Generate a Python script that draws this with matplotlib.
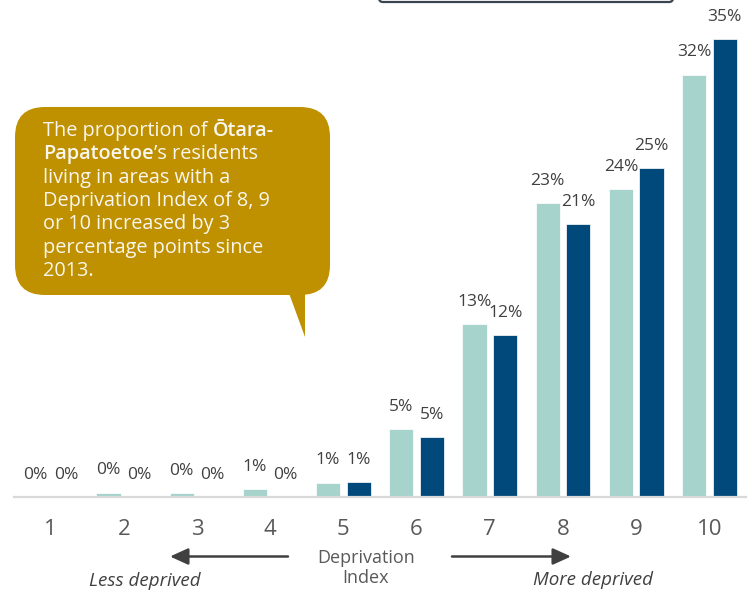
import matplotlib
matplotlib.use("Agg")
import matplotlib.pyplot as plt
import matplotlib.transforms as mtransforms
from matplotlib.patches import FancyBboxPatch, Polygon, FancyArrowPatch

# ---- data ----
categories = ["1", "2", "3", "4", "5", "6", "7", "8", "9", "10"]
share_2013 = [0.0, 0.33, 0.3, 0.6, 1.1, 5.2, 13.3, 22.6, 23.7, 32.5]
share_2018 = [0.0, 0.0, 0.0, 0.0, 1.15, 4.6, 12.45, 21.0, 25.3, 35.2]
axis_title = "Deprivation\nIndex"
less_label = "Less deprived"
more_label = "More deprived"

W, H = 756, 598
plt.rcParams['font.family'] = ['Open Sans', 'DejaVu Sans']
fig = plt.figure(figsize=(W / 100, H / 100), dpi=100)

# axes placed in pixel terms
ax = fig.add_axes([14 / W, 101 / H, 732 / W, 494 / H])
ax.set_xlim(0.5, 10.5)
ax.set_ylim(0, 38)
for s in ['top', 'right', 'left']:
    ax.spines[s].set_visible(False)
ax.spines['bottom'].set_color('#d9d9d9')
ax.spines['bottom'].set_linewidth(1.6)
ax.set_yticks([])
xs = list(range(1, len(categories) + 1))
ax.set_xticks(xs)
ax.set_xticklabels(categories, fontsize=16, color='#595959')
ax.tick_params(axis='x', length=0, pad=16)

light = '#a6d3cc'
dark = '#00497a'
off = 0.21
bw = 0.33
x1 = [x - off for x in xs]
x2 = [x + off for x in xs]
ax.bar(x1, share_2013, width=bw, color=light, edgecolor='white', linewidth=0.5)
ax.bar(x2, share_2018, width=bw, color=dark, edgecolor='white', linewidth=0.5)

for xx, v in zip(x1, share_2013):
    ax.annotate(f"{v:.0f}%", (xx, v), xytext=(0, 16), textcoords='offset points',
                ha='center', va='center', fontsize=12.5, color='#404040',
                annotation_clip=False)
for xx, v in zip(x2, share_2018):
    ax.annotate(f"{v:.0f}%", (xx, v), xytext=(0, 16), textcoords='offset points',
                ha='center', va='center', fontsize=12.5, color='#404040',
                annotation_clip=False)

# pixel transform (origin top-left)
tr = mtransforms.Affine2D().scale(1 / W, -1 / H).translate(0, 1) + fig.transFigure

# partial legend box at top (cut off)
leg = FancyBboxPatch((379, -40), 294, 42, boxstyle="round,pad=0,rounding_size=4",
                     transform=tr, facecolor='white', edgecolor='#3a4450',
                     linewidth=1.6, clip_on=False)
fig.patches.append(leg)

# callout
gold = '#bf9000'
box = FancyBboxPatch((15, 107), 315, 188, boxstyle="round,pad=0,rounding_size=30",
                     transform=tr, facecolor=gold, edgecolor='none')
fig.patches.append(box)
tail = Polygon([(286, 285), (305, 285), (305, 337)], closed=True, transform=tr,
               facecolor=gold, edgecolor='none')
fig.patches.append(tail)

fs = 14.3
tc = '#f9f6ee'
lx = 43
ly0 = 131
dy = 23.3
lines = [
    [("The proportion of", 'normal'), ("Ōtara-", 'semibold')],
    [("Papatoetoe", 'semibold'), ("’s residents", 'normal')],
    [("living in areas with a", 'normal')],
    [("Deprivation Index of 8, 9", 'normal')],
    [("or 10 increased by 3", 'normal')],
    [("percentage points since", 'normal')],
    [("2013.", 'normal')],
]
fig.canvas.draw()
renderer = fig.canvas.get_renderer()
for i, parts in enumerate(lines):
    y = ly0 + i * dy
    xcur = lx
    for j, (txt, wt) in enumerate(parts):
        if i == 0 and j == 1:
            xcur += 5
        t = fig.text(xcur / W, 1 - y / H, txt, fontsize=fs, fontweight=wt, color=tc,
                     ha='left', va='center')
        bb = t.get_window_extent(renderer=renderer)
        xcur = bb.x1

# axis title and arrows
fig.text(366 / W, 1 - 568 / H, axis_title, ha='center', va='center', fontsize=13,
         color='#595959', linespacing=1.2)
fig.text(145 / W, 1 - 581 / H, less_label, ha='center', va='center', fontsize=13.5,
         style='italic', color='#404040')
fig.text(593 / W, 1 - 580 / H, more_label, ha='center', va='center', fontsize=13.5,
         style='italic', color='#404040')

for (xa, xb) in [(288, 170), (452, 571)]:
    arr = FancyArrowPatch((xa, 556.5), (xb, 556.5), transform=tr,
                          arrowstyle='-|>,head_length=1.1,head_width=0.5',
                          mutation_scale=10, color='#404040', linewidth=1.8,
                          shrinkA=0, shrinkB=0)
    fig.patches.append(arr)

fig.savefig('out.png', dpi=100)
